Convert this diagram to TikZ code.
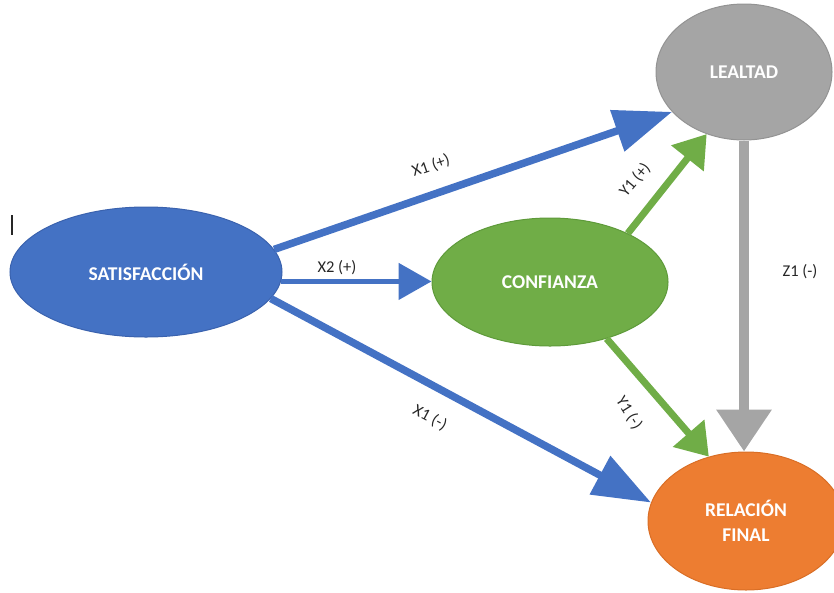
\documentclass[tikz,border=0pt]{standalone}
\usepackage{fontspec}
\setmainfont{Carlito}
\usetikzlibrary{arrows.meta,shapes.geometric,calc}

\definecolor{satblue}{HTML}{4472C4}
\definecolor{satline}{HTML}{3A62AE}
\definecolor{confgreen}{HTML}{70AD47}
\definecolor{confline}{HTML}{5E9A3A}
\definecolor{lealgray}{HTML}{A5A5A5}
\definecolor{lealline}{HTML}{939393}
\definecolor{relorange}{HTML}{ED7D31}
\definecolor{relline}{HTML}{D96E26}
\definecolor{labeltext}{HTML}{262626}

\tikzset{
  construct/.style={ellipse, inner sep=0pt, line width=1pt, text=white,
    font=\fontsize{19.5}{22}\selectfont\bfseries, align=center},
  pathlabel/.style={text=labeltext, inner sep=1pt,
    font=\fontsize{16.5}{18}\selectfont},
  bluelink/.style={draw=satblue, line width=7.5pt,
    -{Triangle[length=58pt,width=42pt]}},
  shortlink/.style={draw=satblue, line width=5pt,
    -{Triangle[length=33pt,width=36pt]}},
  greenlink/.style={draw=confgreen, line width=7pt,
    -{Triangle[length=31pt,width=40pt]}},
  graylink/.style={draw=lealgray, line width=10pt,
    -{Triangle[length=42pt,width=53pt]}},
}

\begin{document}
\begin{tikzpicture}[x=1pt,y=-1pt]
  \useasboundingbox (0,0) rectangle (834,592);

  % constructs
  \node[construct, fill=satblue, draw=satline,
        minimum width=272pt, minimum height=130pt] (sat) at (146,272) {SATISFACCIÓN};
  \node[construct, fill=confgreen, draw=confline,
        minimum width=236pt, minimum height=128pt] (conf) at (550,282) {CONFIANZA};
  \node[construct, fill=lealgray, draw=lealline,
        minimum width=176pt, minimum height=136pt] (leal) at (744,72) {LEALTAD};
  \node[construct, fill=relorange, draw=relline,
        minimum width=196pt, minimum height=138pt] (rel) at (746,521)
        {RELACIÓN\\[3pt]FINAL};

  % text cursor mark at the left
  \coordinate (cursortop) at (12,215);
  \coordinate (cursorbot) at (12,235);
  \draw[labeltext, line width=1.5pt] (cursortop) -- (cursorbot);

  % paths
  \draw[bluelink] (sat.10.5) -- (leal.209.4);
  \draw[shortlink] (sat.-4.7) -- (sat.-4.7 -| conf.west);
  \draw[bluelink] (sat.-12.2) -- (rel.169.4);
  \draw[greenlink] (conf.32.9) -- (leal.239);
  \draw[greenlink] (conf.-45) -- (rel.120.3);
  \draw[graylink] (leal.south) -- (leal.south |- rel.north);

  % path labels
  \node[pathlabel, rotate=19] (lx1p) at (431,166) {X1 (+)};
  \node[pathlabel] (lx2p) at (337,268) {X2 (+)};
  \node[pathlabel, rotate=-28] (lx1m) at (430,418) {X1 (-)};
  \node[pathlabel, rotate=50] (ly1p) at (635,180) {Y1 (+)};
  \node[pathlabel, rotate=-58] (ly1m) at (629,413) {Y1 (-)};
  \node[pathlabel] (lz1m) at (800,272) {Z1 (-)};
\end{tikzpicture}
\end{document}
